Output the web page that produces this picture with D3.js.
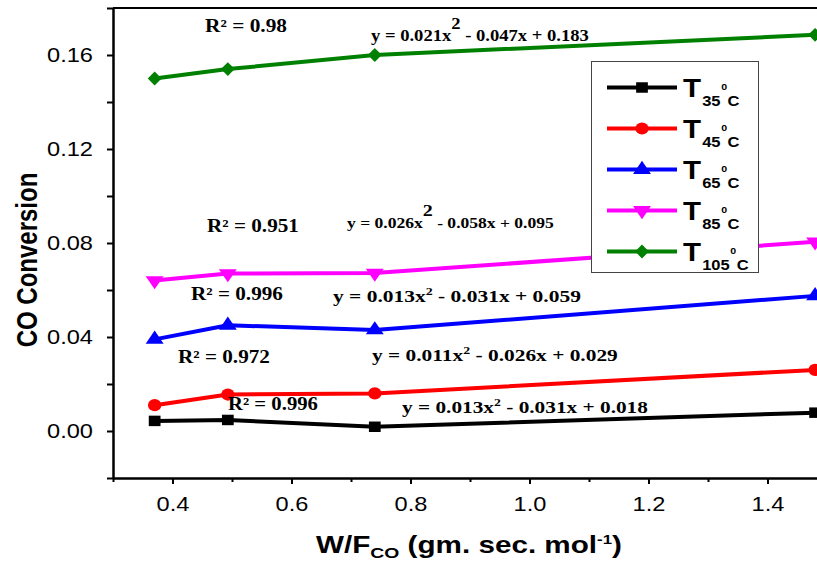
<!DOCTYPE html>
<html>
<head>
<meta charset="utf-8">
<script src="https://cdn.jsdelivr.net/npm/d3@7"></script>
<style>
  html, body { margin: 0; padding: 0; background: #fff; }
  svg { display: block; }
</style>
</head>
<body>
<svg id="chart" width="817" height="563"></svg>
<script>
// ---------- data ----------
const xValues = [0.37, 0.493, 0.74, 1.48];
const seriesLabels = ["35", "45", "65", "85", "105"];
const seriesColors = ["#000000", "#ff0000", "#0000ff", "#ff00ff", "#008000"];
const seriesMarkers = ["square", "circle", "triangleUp", "triangleDown", "diamond"];
const t35 = [0.0043, 0.0047, 0.0018, 0.0078];
const t45 = [0.011, 0.0155, 0.016, 0.026];
const t65 = [0.039, 0.045, 0.043, 0.0575];
const t85 = [0.064, 0.067, 0.0672, 0.0805];
const t105 = [0.15, 0.154, 0.16, 0.1686];
const seriesValues = [t35, t45, t65, t85, t105];

const xMajorTicks = [0.4, 0.6, 0.8, 1.0, 1.2, 1.4];
const xMinorTicks = [0.3, 0.5, 0.7, 0.9, 1.1, 1.3, 1.5];
const yMajorTicks = [0.00, 0.04, 0.08, 0.12, 0.16];
const yMinorTicks = [-0.02, 0.02, 0.06, 0.10, 0.14, 0.18];

const r2Labels = ["R² = 0.996", "R² = 0.972", "R² = 0.996", "R² = 0.951", "R² = 0.98"];
const eqBefore = ["y = 0.013x", "y = 0.011x", "y = 0.013x", "y = 0.026x", "y = 0.021x"];
const eqAfter = [" - 0.031x + 0.018", " - 0.026x + 0.029", " - 0.031x + 0.059", " - 0.058x + 0.095", " - 0.047x + 0.183"];

// ---------- layout (text placement: left, right, baseline) ----------
const r2Layout = [[228, 318, 410], [178, 270, 363], [191, 283, 300], [207, 299, 232], [205, 287, 32]];
const eqLayout = [[402, 648, 413], [372, 618, 361], [333, 581, 302], [347, 554, 228], [371, 589, 41]];
const eqFont = [17, 17, 17, 14, 16];
const eqBigSup = [false, false, false, true, true];

const W = 817, H = 563;
const svg = d3.select("#chart");
svg.append("rect").attr("width", W).attr("height", H).attr("fill", "#fff");

const x = d3.scaleLinear().domain([0.3, 1.5]).range([113, 827]);
const y = d3.scaleLinear().domain([-0.02, 0.18]).range([478, 8]);

const SANS = "'Liberation Sans', Arial, Helvetica, sans-serif";
const SERIF = "'Liberation Serif', 'Times New Roman', serif";
const STRETCH = 1.18;

function fitText(parent, x0, x1, baseline, build) {
  const t = parent.append("text");
  build(t);
  const w = t.node().getBBox().width;
  t.attr("transform", `translate(${x0},${baseline}) scale(${(x1 - x0) / w},1)`);
  return t;
}

// ---------- axes ----------
const axes = svg.append("g");
axes.append("line")
  .attr("x1", x.range()[0]).attr("x2", x.range()[1])
  .attr("y1", y.range()[1]).attr("y2", y.range()[1])
  .attr("stroke", "#000").attr("stroke-width", 2);

const xAxisG = axes.append("g").attr("transform", `translate(0,${y.range()[0]})`);
xAxisG.append("g").call(d3.axisBottom(x).tickValues(xMinorTicks).tickSize(4).tickSizeOuter(0).tickFormat(""));
xAxisG.append("g").call(d3.axisBottom(x).tickValues(xMajorTicks).tickSize(6).tickSizeOuter(0)
  .tickPadding(13).tickFormat(d3.format(".1f")));

const yAxisG = axes.append("g").attr("transform", `translate(${x.range()[0]},0)`);
yAxisG.append("g").call(d3.axisLeft(y).tickValues(yMinorTicks).tickSize(6).tickSizeOuter(0).tickFormat(""));
yAxisG.append("g").call(d3.axisLeft(y).tickValues(yMajorTicks).tickSize(6).tickSizeOuter(0)
  .tickPadding(11).tickFormat(d3.format(".2f")));

axes.selectAll(".domain").attr("stroke", "#000").attr("stroke-width", 2);
axes.selectAll(".tick line").attr("stroke", "#000").attr("stroke-width", 2);
axes.selectAll(".tick text")
  .attr("font-family", SANS).attr("font-size", 20).attr("fill", "#000")
  .attr("transform", `scale(${STRETCH},1)`);

// axis titles
fitText(svg, 316, 622, 553, t => {
  t.attr("font-family", SANS).attr("font-weight", "bold").attr("font-size", 23).attr("fill", "#000");
  t.append("tspan").text("W/F");
  t.append("tspan").attr("font-size", 15).attr("dy", 5).text("CO");
  t.append("tspan").attr("dy", -5).text(" (gm. sec. mol");
  t.append("tspan").attr("font-size", 13).attr("dy", -9).text("-1");
  t.append("tspan").attr("dy", 9).text(")");
});

svg.append("text")
  .attr("transform", `translate(36.5,260) scale(1.22,1) rotate(-90)`)
  .attr("text-anchor", "middle")
  .attr("font-family", SANS).attr("font-weight", "bold").attr("font-size", 24)
  .attr("fill", "#000")
  .text("CO Conversion");

// ---------- series ----------
function markerPath(type) {
  switch (type) {
    case "square": return { d: d3.symbol(d3.symbolSquare, 110)(), rot: 0, sx: 1.12 };
    case "circle": return { d: d3.symbol(d3.symbolCircle, 115)(), rot: 0, sx: 1.1 };
    case "triangleUp": return { d: d3.symbol(d3.symbolTriangle, 100)(), rot: 0, sx: 1.18 };
    case "triangleDown": return { d: d3.symbol(d3.symbolTriangle, 100)(), rot: 180, sx: 1.18 };
    case "diamond": return { d: d3.symbol(d3.symbolSquare, 95)(), rot: 45, sx: 1.0 };
  }
}

const line = d3.line().x(d => x(d[0])).y(d => y(d[1]));
const plot = svg.append("g");
seriesValues.forEach((vals, i) => {
  const pts = xValues.map((xv, j) => [xv, vals[j]]);
  plot.append("path").datum(pts)
    .attr("d", line).attr("fill", "none")
    .attr("stroke", seriesColors[i]).attr("stroke-width", 4)
    .attr("stroke-linejoin", "round");
  const m = markerPath(seriesMarkers[i]);
  plot.selectAll(null).data(pts).enter().append("path")
    .attr("d", m.d)
    .attr("transform", d => `translate(${x(d[0])},${y(d[1])}) scale(${m.sx},1) rotate(${m.rot})`)
    .attr("fill", seriesColors[i]);
});

// ---------- annotations ----------
const ann = svg.append("g");
r2Labels.forEach((lab, i) => {
  const [a, b, base] = r2Layout[i];
  fitText(ann, a, b, base, t => {
    t.attr("font-family", SERIF).attr("font-weight", "bold").attr("font-size", 18).attr("fill", "#000").text(lab);
  });
});
eqBefore.forEach((pre, i) => {
  const [a, b, base] = eqLayout[i];
  fitText(ann, a, b, base, t => {
    t.attr("font-family", SERIF).attr("font-weight", "bold").attr("font-size", eqFont[i]).attr("fill", "#000");
    t.append("tspan").text(pre);
    if (eqBigSup[i]) {
      t.append("tspan").attr("font-size", 16).attr("dy", -12).text("2");
      t.append("tspan").attr("dy", 12).text(eqAfter[i]);
    } else {
      t.append("tspan").attr("font-size", 11).attr("dy", -7).text("2");
      t.append("tspan").attr("dy", 7).text(eqAfter[i]);
    }
  });
});

// ---------- legend ----------
const legend = svg.append("g");
legend.append("rect")
  .attr("x", 591.5).attr("y", 61.5).attr("width", 167).attr("height", 211)
  .attr("fill", "#fff").attr("stroke", "#444").attr("stroke-width", 1);
seriesLabels.forEach((lab, i) => {
  const ry = 87.5 + i * 41;
  const row = legend.append("g").attr("transform", `translate(0,${ry})`);
  row.append("line").attr("x1", 607).attr("x2", 677).attr("y1", 0).attr("y2", 0)
    .attr("stroke", seriesColors[i]).attr("stroke-width", 4);
  const m = markerPath(seriesMarkers[i]);
  row.append("path").attr("d", m.d)
    .attr("transform", `translate(642,0) scale(${m.sx},1) rotate(${m.rot})`)
    .attr("fill", seriesColors[i]);
  const t = row.append("text")
    .attr("transform", `translate(683,9.5) scale(${STRETCH},1)`)
    .attr("font-family", SANS).attr("font-weight", "bold").attr("fill", "#000");
  t.append("tspan").attr("font-size", 25).text("T");
  t.append("tspan").attr("font-size", 14).attr("dx", 1).attr("dy", 8.5).text(lab);
  t.append("tspan").attr("font-size", 9).attr("dx", 0.5).attr("dy", -15.5).text("0");
  t.append("tspan").attr("font-size", 14).attr("dx", 0.5).attr("dy", 15.5).text("C");
});
</script>
</body>
</html>
